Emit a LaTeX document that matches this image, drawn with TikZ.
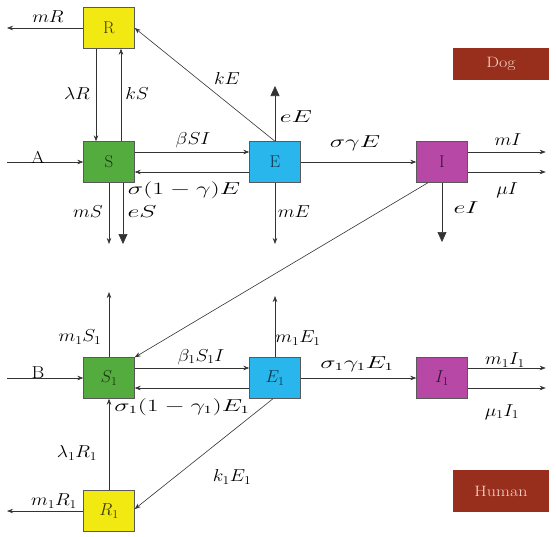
\documentclass[tikz,border=0pt]{standalone}
\usepackage{fontspec}
\usetikzlibrary{arrows.meta}
\definecolor{recYellow}{RGB}{242,232,18}
\definecolor{susGreen}{RGB}{84,172,62}
\definecolor{expCyan}{RGB}{40,182,236}
\definecolor{infPurple}{RGB}{184,72,166}
\definecolor{tagRed}{RGB}{152,46,28}
\definecolor{tagText}{RGB}{248,214,200}
\newcommand{\rate}[1]{\scalebox{1.13}[1]{$#1$}}
\newcommand{\wrate}[1]{\scalebox{1.5}[1]{$#1$}}
\tikzset{
    comp/.style={draw=black!65, minimum width=51pt, minimum height=41pt, inner sep=0pt,
        font=\fontsize{17}{19}\selectfont},
    flow/.style={draw=black!80, semithick, -{Stealth[length=6pt,width=4.5pt]}},
    loss/.style={draw=black!80, semithick, -{Triangle[length=10pt,width=9pt]}},
    lbl/.style={inner sep=0pt, font=\fontsize{17.28}{20}\selectfont},
    wlbl/.style={inner sep=0pt, font=\fontsize{16}{19}\selectfont},
    tag/.style={fill=tagRed, text=tagText, minimum width=96pt, inner sep=0pt,
        font=\fontsize{15}{17}\selectfont}
}
\begin{document}
\begin{tikzpicture}[x=1pt,y=-1pt]
    \useasboundingbox (0,0) rectangle (556,536);
    % compartments, dog
    \node[comp, fill=recYellow, text=recYellow!25!black] (R) at (109,28) {R};
    \node[comp, fill=susGreen, text=susGreen!30!black] (S) at (109,162) {S};
    \node[comp, fill=expCyan, text=expCyan!30!black] (E) at (275,162) {E};
    \node[comp, fill=infPurple, text=infPurple!30!black] (I) at (442,162) {I};
    % compartments, human
    \node[comp, fill=susGreen, text=susGreen!30!black] (S1) at (109,378) {$S_1$};
    \node[comp, fill=expCyan, text=expCyan!30!black] (E1) at (275,378) {$E_1$};
    \node[comp, fill=infPurple, text=infPurple!30!black] (I1) at (442,378) {$I_1$};
    \node[comp, fill=recYellow, text=recYellow!25!black] (R1) at (109,511) {$R_1$};
    \node[tag, minimum height=32pt] (dog) at (501,64) {\scalebox{1.2}[1]{Dog}};
    \node[tag, minimum height=42pt] (human) at (501,491) {\scalebox{1.2}[1]{Human}};
    % free ends
    \coordinate (mRend) at (7,28);
    \coordinate (Ain) at (7,162);
    \coordinate (eEend) at (275,86);
    \coordinate (mEend) at (275,244);
    \coordinate (eIend) at (442,242);
    \coordinate (m1S1end) at (109,292);
    \coordinate (Bin) at (7,378);
    \coordinate (m1E1end) at (275,296);
    \coordinate (m1R1end) at (7,511);
    % dog flows
    \draw[flow] (R.west) -- (mRend);
    \draw[flow] ([xshift=-13pt]R.south) -- ([xshift=-13pt]S.north);
    \draw[flow] ([xshift=12pt]S.north) -- ([xshift=12pt]R.south);
    \draw[flow] (E.north) -- (R.east);
    \draw[loss] (E.north) -- (eEend);
    \draw[flow] (Ain) -- (S.west);
    \draw[flow] ([yshift=10pt]S.east) -- ([yshift=10pt]E.west);
    \draw[flow] ([yshift=-10pt]E.west) -- ([yshift=-10pt]S.east);
    \draw[flow] (S.south) -- (S.south |- mEend);
    \draw[loss] ([xshift=14pt]S.south) -- ([xshift=14pt]S.south |- mEend);
    \draw[flow] (E.south) -- (mEend);
    \draw[flow] (E.east) -- (I.west);
    \draw[flow] ([yshift=10pt]I.east) -- +(78,0);
    \draw[flow] ([yshift=-10pt]I.east) -- +(78,0);
    \draw[loss] (I.south) -- (eIend);
    \draw[flow] ([xshift=-14pt]I.south) -- (S1.north east);
    % human flows
    \draw[flow] (S1.north) -- (m1S1end);
    \draw[flow] (Bin) -- (S1.west);
    \draw[flow] ([yshift=10pt]S1.east) -- ([yshift=10pt]E1.west);
    \draw[flow] ([yshift=-10pt]E1.west) -- ([yshift=-10pt]S1.east);
    \draw[flow] (E1.north) -- (m1E1end);
    \draw[flow] (E1.east) -- (I1.west);
    \draw[flow] ([yshift=10pt]I1.east) -- +(78,0);
    \draw[flow] ([yshift=-10pt]I1.east) -- +(78,0);
    \draw[flow] (R1.north) -- (S1.south);
    \draw[flow] ([xshift=-2pt]E1.south) -- ([yshift=2pt]R1.east);
    \draw[flow] (R1.west) -- (m1R1end);
    % rates, dog
    \node[lbl] (lmR) at (48,17) {\rate{mR}};
    \node[lbl] (llR) at (77,93) {\rate{\lambda R}};
    \node[lbl] (lkS) at (137,93) {\rate{kS}};
    \node[lbl] (lkE) at (227,78) {\rate{kE}};
    \node[wlbl] (leE) at (296,117) {\wrate{eE}};
    \node[lbl] (lA) at (38,157) {\scalebox{1.13}[1]{A}};
    \node[lbl] (lbSI) at (193,140) {\rate{\beta SI}};
    \node[wlbl] (lsgE) at (184,190) {\wrate{\sigma(1-\gamma)E}};
    \node[lbl] (lmS) at (88,212) {\rate{mS}};
    \node[wlbl] (leS) at (142,212) {\wrate{eS}};
    \node[lbl] (lmE) at (294,212) {\rate{mE}};
    \node[wlbl] (lsyE) at (355,143) {\wrate{\sigma\gamma E}};
    \node[lbl] (lmI) at (508,140) {\rate{mI}};
    \node[lbl] (lmuI) at (507,190) {\rate{\mu I}};
    \node[wlbl] (leI) at (466,208) {\wrate{eI}};
    % rates, human
    \node[lbl] (lmS1) at (80,337) {\rate{m_1S_1}};
    \node[lbl] (lbS1I) at (201,357) {\rate{\beta_1S_1I}};
    \node[wlbl] (lsgE1) at (182,407) {\wrate{\sigma_1(1-\gamma_1)E_1}};
    \node[lbl] (lmE1) at (298,338) {\rate{m_1E_1}};
    \node[wlbl] (lsyE1) at (357,364) {\wrate{\sigma_1\gamma_1E_1}};
    \node[lbl] (lmI1) at (505,360) {\rate{m_1I_1}};
    \node[lbl] (lmuI1) at (502,412) {\rate{\mu_1I_1}};
    \node[lbl] (llR1) at (77,453) {\rate{\lambda_1R_1}};
    \node[lbl] (lkE1) at (232,477) {\rate{k_1E_1}};
    \node[lbl] (lmR1) at (54,501) {\rate{m_1R_1}};
    \node[lbl] (lB) at (38,373) {\scalebox{1.13}[1]{B}};
\end{tikzpicture}
\end{document}
